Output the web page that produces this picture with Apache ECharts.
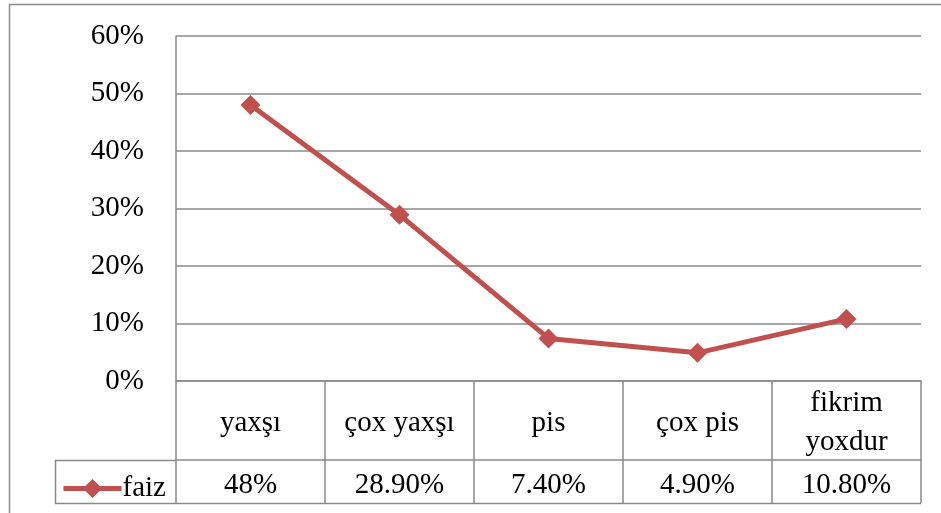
<!DOCTYPE html>
<html>
<head>
<meta charset="utf-8">
<script src="https://cdn.jsdelivr.net/npm/echarts@6/dist/echarts.min.js"></script>
<style>html,body{margin:0;padding:0;background:#fff;}#c{width:941px;height:513px;}</style>
</head>
<body>
<div id="c"></div>
<script>
const categories = ['yaxşı', 'çox yaxşı', 'pis', 'çox pis', 'fikrim\nyoxdur'];
const values = [48, 28.9, 7.4, 4.9, 10.8];
const valueLabels = ['48%', '28.90%', '7.40%', '4.90%', '10.80%'];
const seriesName = 'faiz';
const yTicks = { min: 0, max: 60, interval: 10 };

const FONT = 'Liberation Serif';
const FS = 29;
const GRAY = '#8a8a8a';
const RED = '#C0504D';
const chart = echarts.init(document.getElementById('c'), null, { renderer: 'canvas' });
chart.setOption({
  animation: false,
  backgroundColor: '#fff',
  grid: { left: 176, right: 20, top: 36, bottom: 132, containLabel: false },
  legend: {
    data: [{ name: seriesName }], left: 56, top: 469, itemWidth: 58, itemHeight: 24, itemGap: 0,
    lineStyle: { width: 5, color: RED },
    textStyle: { fontFamily: FONT, fontSize: FS, color: '#000', padding: [0, 0, 0, -4] }
  },
  xAxis: [
    {
      type: 'category', data: categories, boundaryGap: true,
      axisLine: { show: true, lineStyle: { color: GRAY, width: 1.5 } },
      axisTick: { show: true, interval: 0, length: 122, lineStyle: { color: GRAY, width: 1.5 } },
      axisLabel: { interval: 0, margin: 42, verticalAlign: 'middle', fontFamily: FONT, fontSize: FS, color: '#000', lineHeight: 39 },
      splitLine: { show: false }
    },
    {
      type: 'category', data: categories, boundaryGap: true, position: 'bottom', offset: 79,
      axisLine: { show: true, lineStyle: { color: GRAY, width: 1.5 } },
      axisTick: { show: true, interval: 0, length: 43, lineStyle: { color: GRAY, width: 1.5 } },
      axisLabel: { interval: 0, margin: 25, verticalAlign: 'middle', fontFamily: FONT, fontSize: FS, color: '#000',
        formatter: (v, i) => valueLabels[i] },
      splitLine: { show: false }
    }
  ],
  yAxis: {
    type: 'value', min: yTicks.min, max: yTicks.max, interval: yTicks.interval,
    axisLine: { show: true, lineStyle: { color: GRAY, width: 1.5 } },
    axisTick: { show: false },
    axisLabel: { formatter: '{value}%', margin: 32, fontFamily: FONT, fontSize: FS, color: '#000' },
    splitLine: { show: true, lineStyle: { color: GRAY, width: 1.5 } }
  },
  series: [{
    name: seriesName, type: 'line', data: values, xAxisIndex: 0,
    lineStyle: { color: RED, width: 5 }, itemStyle: { color: RED },
    symbol: 'diamond', symbolSize: 20, showSymbol: true
  }],
  graphic: [
    { type: 'line', shape: { x1: 9.5, y1: 4, x2: 9.5, y2: 513 }, style: { stroke: GRAY, lineWidth: 1.5 } },
    { type: 'line', shape: { x1: 9, y1: 4.5, x2: 941, y2: 4.5 }, style: { stroke: GRAY, lineWidth: 1.5 } },
    { type: 'line', shape: { x1: 55, y1: 460.5, x2: 176, y2: 460.5 }, style: { stroke: GRAY, lineWidth: 1.5 } },
    { type: 'line', shape: { x1: 55, y1: 503.5, x2: 921, y2: 503.5 }, style: { stroke: GRAY, lineWidth: 1.5 } },
    { type: 'line', shape: { x1: 55.5, y1: 460, x2: 55.5, y2: 504 }, style: { stroke: GRAY, lineWidth: 1.5 } }
  ]
});
</script>
</body>
</html>
